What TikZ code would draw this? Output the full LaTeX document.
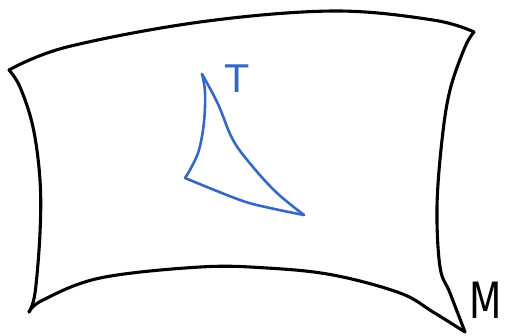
\documentclass[tikz,border=0pt]{standalone}
\usepackage{fontspec}
\setsansfont{DejaVu Sans}
\usepackage{tikz}
\usetikzlibrary{positioning}
\definecolor{penblue}{RGB}{52,104,196}

\begin{document}
\begin{tikzpicture}[
    x=1pt, y=-1pt,
    sheet/.style={draw=black, line width=3.1pt, line cap=round, line join=round},
    tri/.style={draw=penblue, line width=2.6pt, line cap=round, line join=round},
    lbl/.style={font=\sffamily\fontsize{38}{40}\selectfont, inner sep=0pt},
  ]
    \useasboundingbox (0,0) rectangle (505,335);

    % corners of the surface M
    \coordinate (tl) at (9,70);
    \coordinate (tr) at (474,32);
    \coordinate (br) at (465,332);
    \coordinate (bl) at (29,312);

    \draw[sheet] plot[smooth, tension=0.6] coordinates {(tl) (67,47) (200,22) (333,11) (433,20) (tr)};
    \draw[sheet] plot[smooth, tension=0.6] coordinates {(tr) (465,47) (450,90) (442,140) (437,207) (440,267) (450,293) (br)};
    \draw[sheet] plot[smooth, tension=0.6] coordinates {(bl) (43,300) (100,278) (200,267) (267,268) (333,275) (400,293) (433,312) (br)};
    \draw[sheet] plot[smooth, tension=0.6] coordinates {(tl) (20,87) (33,127) (40,180) (40,233) (35,293) (bl)};

    % triangle T
    \coordinate (ta) at (202,74);
    \coordinate (tb) at (185,178);
    \coordinate (tc) at (304,215);

    \draw[tri] plot[smooth, tension=0.6] coordinates {(ta) (205,92) (204,122) (199,150) (191,168) (tb)};
    \draw[tri] plot[smooth, tension=0.6] coordinates {(ta) (218,104) (233,140) (253,167) (277,193) (tc)};
    \draw[tri] plot[smooth, tension=0.6] coordinates {(tb) (240,200) (270,208) (tc)};

    \node[lbl, text=penblue] (tlabel) at (237,79) {T};
    \node[lbl, xscale=0.75, font=\sffamily\fontsize{50}{52}\selectfont] (mlabel) at (486,300) {M};
  \end{tikzpicture}
\end{document}
